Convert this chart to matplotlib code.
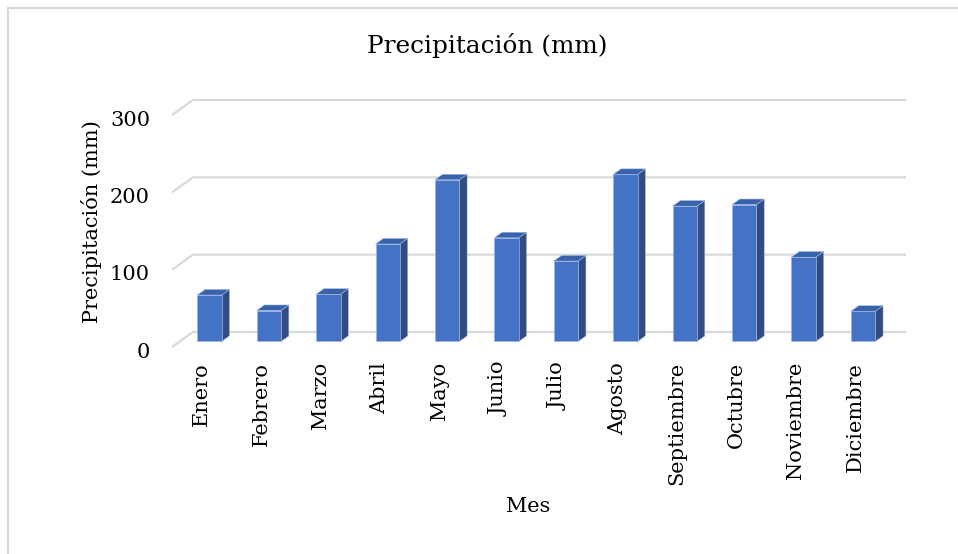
import matplotlib
matplotlib.use("Agg")
import matplotlib.pyplot as plt
from matplotlib.patches import Polygon
from matplotlib.lines import Line2D

# ---- data ----
months = ["Enero", "Febrero", "Marzo", "Abril", "Mayo", "Junio",
          "Julio", "Agosto", "Septiembre", "Octubre", "Noviembre", "Diciembre"]
precip = [60, 40, 61, 126, 209, 134, 104, 216, 175, 177, 109, 39]
yticks = [0, 100, 200, 300]
title = "Precipitación (mm)"
ylabel = "Precipitación (mm)"
xlabel = "Mes"

# ---- layout (pixel anchors of the back wall) ----
W, H = 958, 554
px_x0, px_slot = 193.0, 59.42        # back wall left, slot width
px_y0, px_per = 332.0, 0.7733        # back wall zero line, px per unit
DX = 21.0 / px_slot                  # oblique depth offset (data units)
DV = 15.0 / px_per

FONT = "DejaVu Serif"
plt.rcParams["font.family"] = [FONT, "DejaVu Sans"]

fig = plt.figure(figsize=(W / 100, H / 100), dpi=100)
ax = fig.add_axes([0, 0, 1, 1])
ax.set_xlim((0 - px_x0) / px_slot, (W - px_x0) / px_slot)
ax.set_ylim((px_y0 - H) / px_per, px_y0 / px_per)
ax.axis("off")


def proj(x, v, d):
    """oblique projection, d=1 back wall, d=0 front"""
    return (x - (1 - d) * DX, v - (1 - d) * DV)


n = len(months)
grid_c = "#D9D9D9"
# gridlines: slant on the floor-left + horizontal along the back wall
for t in yticks:
    x0, y0 = proj(0, t, 0)
    x1, y1 = proj(0, t, 1)
    x2, y2 = proj(n, t, 1)
    ax.plot([x0, x1, x2], [y0, y1, y2], color=grid_c, lw=1.6, zorder=1,
            solid_capstyle="butt")
    ax.text(proj(0, t, 0)[0] - 22 / px_slot, t - DV - 5 / px_per, f"{t}",
            ha="right", va="center", fontsize=15, color="#000000")

# bars
front_c = "#4472C4"
side_c = "#2F4D84"
top_c = "#3A62AA"
edge_c = "#9DB5E0"
w = 0.205
d0, d1 = 0.37, 0.74
for i, v in enumerate(precip):
    c = i + 0.5
    fx, fy = proj(c, 0, d0)
    ax.bar(fx, v, width=2 * w, bottom=fy, color=front_c, edgecolor=edge_c,
           linewidth=0.5, zorder=3 + i * 0.01)
    side = [proj(c + w, 0, d0), proj(c + w, 0, d1), proj(c + w, v, d1), proj(c + w, v, d0)]
    top = [proj(c - w, v, d0), proj(c + w, v, d0), proj(c + w, v, d1), proj(c - w, v, d1)]
    ax.add_patch(Polygon(side, closed=True, facecolor=side_c, edgecolor=edge_c,
                         linewidth=0.4, zorder=2.9))
    ax.add_patch(Polygon(top, closed=True, facecolor=top_c, edgecolor=edge_c,
                         linewidth=0.4, zorder=2.9))
    # category label on front plane
    lx, _ = proj(c, 0, 0)
    ax.text(lx, (px_y0 - 362) / px_per, months[i], rotation=90, ha="center",
            va="top", fontsize=15, color="#000000")

# titles
ax.text((487.5 - px_x0) / px_slot, (px_y0 - 46) / px_per, title, ha="center",
        va="center", fontsize=17.8, color="#000000")
ax.text((91 - px_x0) / px_slot, (px_y0 - 222) / px_per, ylabel, rotation=90,
        ha="center", va="center", fontsize=15, color="#000000")
ax.text((528 - px_x0) / px_slot, (px_y0 - 507) / px_per, xlabel, ha="center",
        va="center", fontsize=15, color="#000000")

# chart border (top and left visible)
fig.add_artist(Line2D([8 / W, 1], [1 - 8 / H, 1 - 8 / H], color=grid_c, lw=1.5,
                      transform=fig.transFigure))
fig.add_artist(Line2D([8 / W, 8 / W], [0, 1 - 8 / H], color=grid_c, lw=1.5,
                      transform=fig.transFigure))

fig.savefig("out.png", dpi=100, facecolor="white")
